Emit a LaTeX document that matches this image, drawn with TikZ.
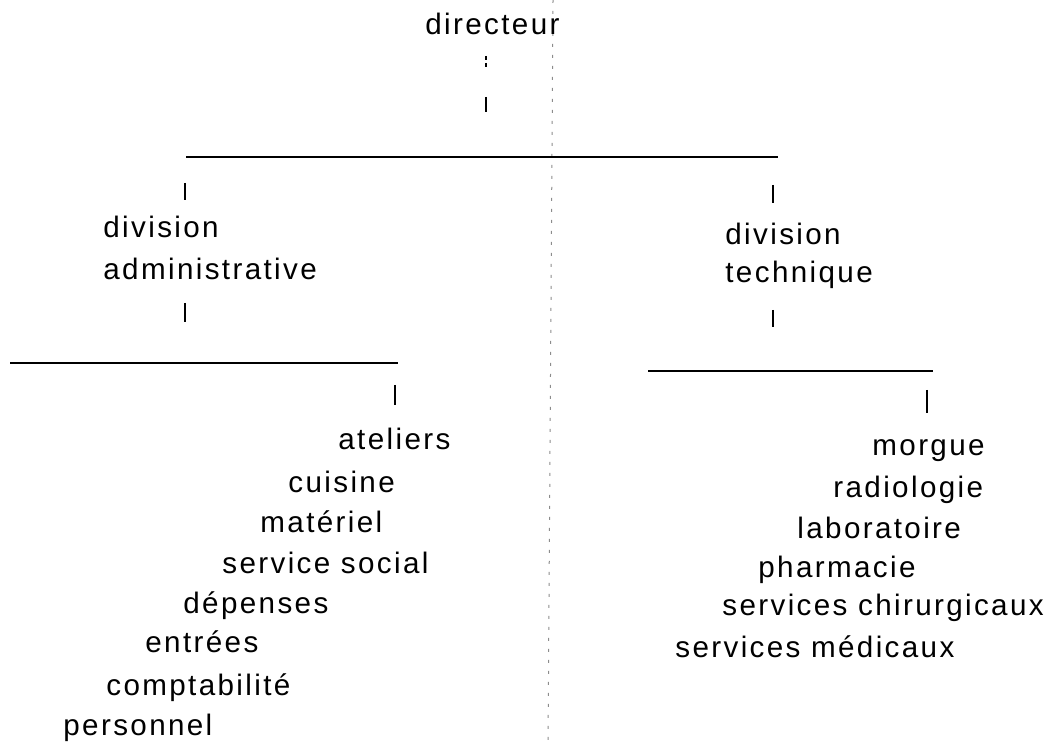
\documentclass[tikz,border=0pt]{standalone}
\usepackage{fontspec}
\setmainfont{Liberation Sans}[LetterSpace=8]
\begin{document}
\begin{tikzpicture}[x=0.5pt,y=-0.5pt,
  lbl/.style={anchor=base west, inner sep=0pt, font=\fontsize{14.8}{17}\selectfont},
  bar/.style={line width=1pt},
  tick/.style={line width=1pt},
  dottick/.style={line width=1pt, dash pattern=on 2pt off 1.5pt},
  fold/.style={black!45, line width=0.5pt, dash pattern=on 1.5pt off 4pt}]
\useasboundingbox (0,0) rectangle (1052,747);
% fold line of the scan
\coordinate (f1) at (553,0);
\coordinate (f2) at (548,747);
\draw[fold] (f1) -- (f2);
% labels
\node[lbl] (dir) at (425,35) {directeur};
\node[lbl] (divA1) at (103,238) {division};
\node[lbl] (divA2) at (103,280) {administrative};
\node[lbl] (divT1) at (725,245) {division};
\node[lbl] (divT2) at (725,283) {technique};
% left list
\node[lbl] (at) at (338,450) {ateliers};
\node[lbl] (cu) at (288,492) {cuisine};
\node[lbl] (ma) at (260,532) {matériel};
\node[lbl] (ss) at (222,573) {service social};
\node[lbl] (de) at (183,613) {dépenses};
\node[lbl] (en) at (145,652) {entrées};
\node[lbl] (co) at (106,695) {comptabilité};
\node[lbl] (pe) at (63,735) {personnel};
% right list
\node[lbl] (mo) at (872,455) {morgue};
\node[lbl] (ra) at (833,497) {radiologie};
\node[lbl] (la) at (797,538) {laboratoire};
\node[lbl] (ph) at (758,577) {pharmacie};
\node[lbl] (sc) at (722,615) {services chirurgicaux};
\node[lbl] (sm) at (675,657) {services médicaux};
% connector coordinates
\coordinate (d1a) at (486,56);  \coordinate (d1b) at (486,70);
\coordinate (d2a) at (486,97);  \coordinate (d2b) at (486,112);
\coordinate (tbL) at (186,157); \coordinate (tbR) at (778,157);
\coordinate (a1a) at (185,183); \coordinate (a1b) at (185,200);
\coordinate (a2a) at (185,303); \coordinate (a2b) at (185,322);
\coordinate (lbL) at (10,363);  \coordinate (lbR) at (398,363);
\coordinate (a3a) at (395,385); \coordinate (a3b) at (395,405);
\coordinate (t1a) at (773,185); \coordinate (t1b) at (773,203);
\coordinate (t2a) at (773,310); \coordinate (t2b) at (773,327);
\coordinate (rbL) at (648,371); \coordinate (rbR) at (933,371);
\coordinate (t3a) at (927,390); \coordinate (t3b) at (927,413);
% connectors
\draw[dottick] (d1a) -- (d1b);
\draw[tick] (d2a) -- (d2b);
\draw[bar] (tbL) -- (tbR);
\draw[tick] (a1a) -- (a1b);
\draw[tick] (a2a) -- (a2b);
\draw[bar] (lbL) -- (lbR);
\draw[tick] (a3a) -- (a3b);
\draw[tick] (t1a) -- (t1b);
\draw[tick] (t2a) -- (t2b);
\draw[bar] (rbL) -- (rbR);
\draw[tick] (t3a) -- (t3b);
\end{tikzpicture}
\end{document}
